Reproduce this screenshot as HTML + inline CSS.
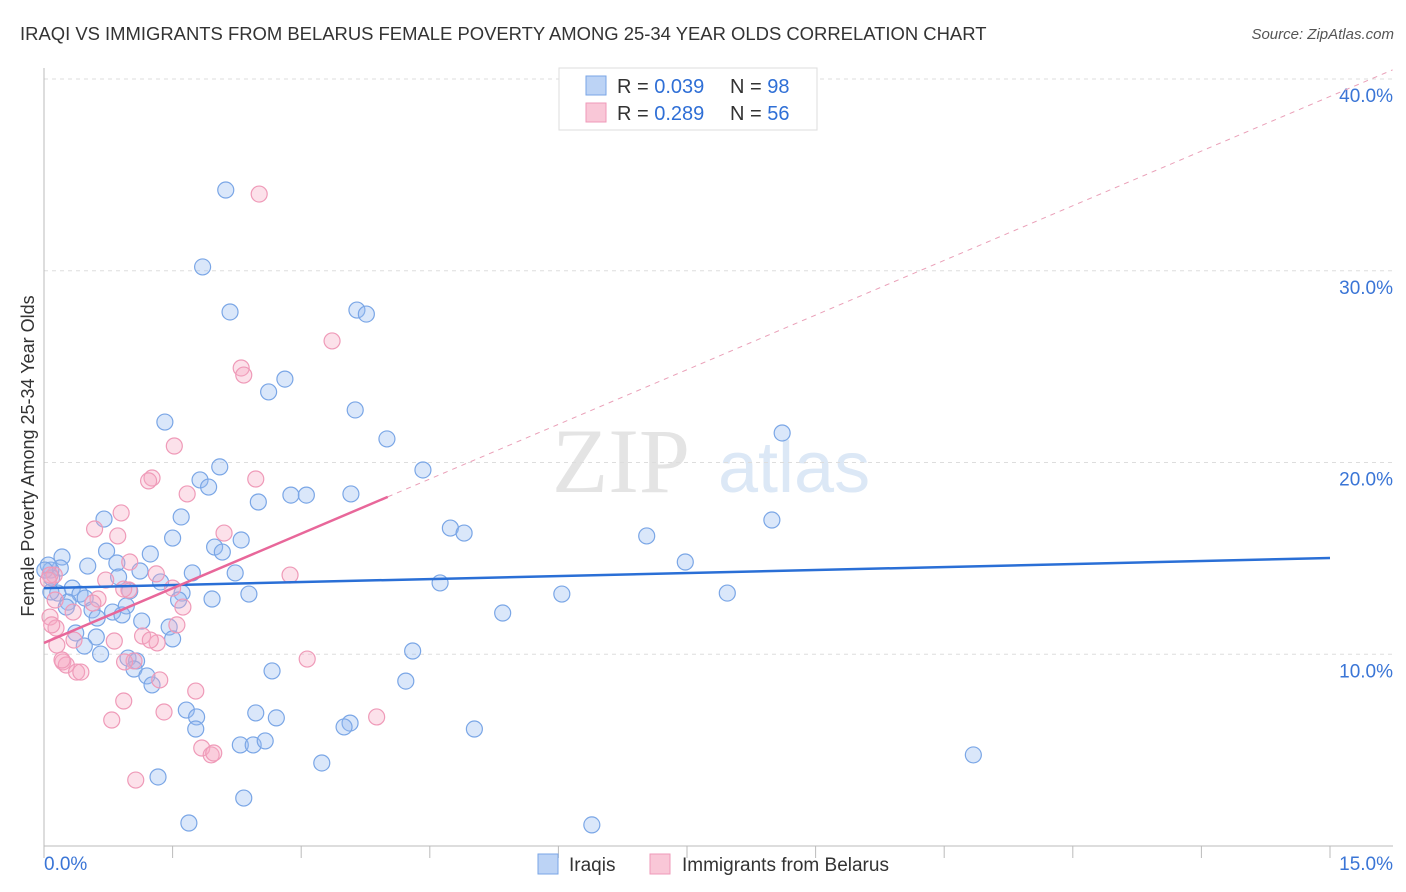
<!DOCTYPE html>
<html><head><meta charset="utf-8"><style>
body{margin:0;background:#fff;font-family:"Liberation Sans",sans-serif;}
svg{display:block}
</style></head><body>
<svg width="1406" height="892" xmlns="http://www.w3.org/2000/svg">
<text x="20" y="40" font-size="18.45" fill="#333">IRAQI VS IMMIGRANTS FROM BELARUS FEMALE POVERTY AMONG 25-34 YEAR OLDS CORRELATION CHART</text>
<text x="1394" y="39" font-size="15" fill="#555" font-style="italic" text-anchor="end">Source: ZipAtlas.com</text>
<g>
<text x="552" y="492" font-family="Liberation Serif,serif" font-size="92" fill="#e4e4e4">ZIP</text>
<text x="718" y="492" font-size="72" fill="#dce8f6">atlas</text>
</g>
<g id="grid"></g>
<g id="axes"></g>
<g id="marks"></g>
<text transform="translate(34,456) rotate(-90)" font-size="18" fill="#333" text-anchor="middle">Female Poverty Among 25-34 Year Olds</text>
<g>
<rect x="559" y="68" width="258" height="62" fill="#fff" stroke="#ddd"/>
<rect x="586" y="76" width="20" height="19" fill="#bcd3f5" stroke="#7aa6e6"/>
<rect x="586" y="103" width="20" height="19" fill="#f9c7d7" stroke="#ef9ab8"/>
<text x="617" y="93" font-size="20" fill="#333">R = <tspan fill="#2f6fd6">0.039</tspan></text>
<text x="730" y="93" font-size="20" fill="#333">N = <tspan fill="#2f6fd6">98</tspan></text>
<text x="617" y="120" font-size="20" fill="#333">R = <tspan fill="#2f6fd6">0.289</tspan></text>
<text x="730" y="120" font-size="20" fill="#333">N = <tspan fill="#2f6fd6">56</tspan></text>
</g>
<g>
<rect x="538" y="854" width="20" height="20" fill="#bcd3f5" stroke="#7aa6e6"/>
<text x="569" y="871" font-size="19" fill="#333">Iraqis</text>
<rect x="650" y="854" width="20" height="20" fill="#f9c7d7" stroke="#ef9ab8"/>
<text x="682" y="871" font-size="19" fill="#333">Immigrants from Belarus</text>
</g>
</svg>
<script>
const yTicks=[10,20,30,40];
const yTickLabels=["10.0%","20.0%","30.0%","40.0%"];
const xTicks=[0,1.5,3,4.5,6,7.5,9,10.5,12,13.5,15];
const blueX=[2.12,1.85,2.17,3.65,3.76,2.81,2.62,3.63,1.41,4.00,4.42,2.05,1.82,1.92,2.88,3.06,3.58,2.50,1.60,0.70,4.74,4.90,7.03,8.49,8.61,1.50,2.30,1.99,2.08,0.73,1.24,0.21,0.85,0.51,0.19,0.08,1.12,2.23,1.73,7.48,1.36,0.87,4.62,0.33,1.61,1.00,0.16,0.08,0.42,0.48,1.57,1.96,2.39,0.28,6.04,7.97,5.35,0.96,0.56,0.26,0.80,0.91,0.62,1.14,1.46,0.37,0.61,1.50,0.47,0.66,0.98,1.08,1.05,2.66,4.30,4.22,1.20,1.26,1.66,1.78,2.47,2.71,1.77,3.57,3.50,5.02,2.29,2.44,2.58,3.24,1.33,2.33,1.69,6.39,10.84,0.05,0.09,0.01];
const blueY=[34.21,30.20,27.85,27.95,27.74,24.35,23.68,22.74,22.11,21.23,19.61,19.77,19.09,18.72,18.30,18.30,18.36,17.94,17.16,17.05,16.58,16.32,16.17,17.00,21.54,16.06,15.96,15.59,15.33,15.38,15.23,15.07,14.76,14.60,14.50,14.39,14.34,14.24,14.24,14.81,13.77,14.03,13.72,13.45,13.19,13.30,13.19,13.25,13.14,12.93,12.83,12.88,13.14,12.72,13.14,13.19,12.15,12.52,12.31,12.46,12.20,12.05,11.89,11.73,11.42,11.11,10.90,10.80,10.43,10.01,9.80,9.65,9.23,9.13,10.17,8.60,8.87,8.40,7.09,6.73,6.94,6.68,6.10,6.41,6.21,6.10,5.27,5.27,5.48,4.33,3.60,2.50,1.20,1.10,4.75,14.65,13.98,14.39];
const pinkX=[2.51,3.36,2.30,2.33,1.52,1.26,1.22,1.67,2.47,0.90,0.59,2.10,0.86,1.00,0.12,0.72,2.87,1.31,1.50,0.99,0.93,0.63,1.62,0.34,0.07,0.57,1.55,0.14,1.15,1.32,1.24,0.82,0.15,0.35,1.05,0.94,3.07,0.22,0.26,0.38,0.43,1.35,1.77,0.93,1.40,0.79,3.88,1.84,1.95,1.98,1.07,0.07,0.05,0.13,0.21,0.09];
const pinkY=[34.00,26.34,24.93,24.56,20.86,19.19,19.04,18.36,19.14,17.37,16.53,16.32,16.17,14.81,14.13,13.87,14.13,14.19,13.45,13.35,13.40,12.88,12.46,12.20,11.94,12.67,11.53,11.37,10.95,10.59,10.74,10.69,10.48,10.74,9.65,9.60,9.75,9.60,9.44,9.07,9.07,8.66,8.08,7.56,6.99,6.57,6.73,5.11,4.75,4.85,3.44,14.13,13.87,12.83,9.70,11.53];
const blueTrend=[13.45,15.02];
const pinkTrend=[10.59,1.9];
const NS="http://www.w3.org/2000/svg";
const sx=v=>44+v/15*1286;
const sy=v=>846-v*19.175;
function mk(t,a,p){const e=document.createElementNS(NS,t);for(const k in a)e.setAttribute(k,a[k]);p.appendChild(e);return e;}
const grid=document.getElementById('grid'),axes=document.getElementById('axes'),marks=document.getElementById('marks');
yTicks.forEach((t,i)=>{
 const l=mk('line',{x1:44,x2:1393,y1:sy(t),y2:sy(t),stroke:'#ddd','stroke-dasharray':'4,4'},grid);
 
 
 const tx=mk('text',{x:1393,y:sy(t)+23,'font-size':19,fill:'#3a75d6','text-anchor':'end'},axes);
 tx.textContent=yTickLabels[i];
 
 
});
const topGrid=mk('line',{x1:44,x2:1393,y1:79,y2:79,stroke:'#ddd','stroke-dasharray':'4,4'},grid);


const ya=mk('line',{x1:44,x2:44,y1:68,y2:846,stroke:'#bbb'},axes);


const xa=mk('line',{x1:44,x2:1393,y1:846,y2:846,stroke:'#bbb'},axes);


xTicks.forEach(t=>{
 const l=mk('line',{x1:sx(t),x2:sx(t),y1:846,y2:858,stroke:'#bbb'},axes);
 
 
});
const xl0=mk('text',{x:44,y:870,'font-size':19,fill:'#3a75d6'},axes);xl0.textContent='0.0%';


const xl1=mk('text',{x:1393,y:870,'font-size':19,fill:'#3a75d6','text-anchor':'end'},axes);xl1.textContent='15.0%';


blueX.forEach((x,i)=>{
 const c=mk('circle',{cx:sx(x),cy:sy(blueY[i]),r:8,fill:'rgba(150,185,240,0.35)',stroke:'#7aa6e6','stroke-width':1.2},marks);
 
 
});
pinkX.forEach((x,i)=>{
 const c=mk('circle',{cx:sx(x),cy:sy(pinkY[i]),r:8,fill:'rgba(245,170,195,0.35)',stroke:'#ef9ab8','stroke-width':1.2},marks);
 
 
});
const bt=mk('line',{x1:sx(0),y1:sy(blueTrend[0]),x2:sx(15),y2:sy(blueTrend[1]),stroke:'#2a6fd6','stroke-width':2.5},marks);


const pe=4.01,pm=15.73;
const pd=mk('line',{x1:sx(pe),y1:sy(pinkTrend[0]+pinkTrend[1]*pe),x2:sx(pm),y2:sy(pinkTrend[0]+pinkTrend[1]*pm),stroke:'#eaa0b8','stroke-width':1,'stroke-dasharray':'5,5'},marks);


const pt=mk('line',{x1:sx(0),y1:sy(pinkTrend[0]),x2:sx(pe),y2:sy(pinkTrend[0]+pinkTrend[1]*pe),stroke:'#e8679a','stroke-width':2.5},marks);


</script>
</body></html>
